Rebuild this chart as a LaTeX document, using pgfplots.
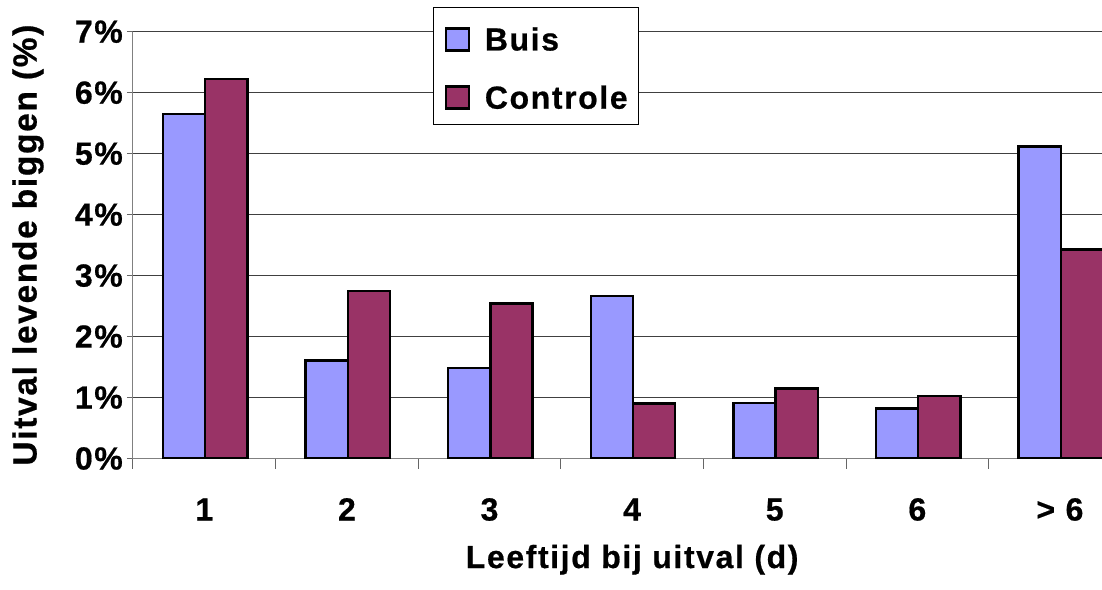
\documentclass[border=0pt]{standalone}
\usepackage{fontspec}
\setmainfont{Liberation Sans}[LetterSpace=5,BoldFeatures={FakeBold=0.6}]
\usepackage{pgfplots}
\pgfplotsset{compat=1.18}
\definecolor{buis}{HTML}{9999FF}
\definecolor{ctrl}{HTML}{993366}
\begin{document}
\begin{tikzpicture}[font=\fontsize{32}{38}\selectfont\bfseries]
\useasboundingbox (-133pt,-130.5pt) rectangle (969pt,458.5pt);
\begin{axis}[
  at={(0,0)}, anchor=south west,
  scale only axis, width=969pt, height=426.8pt,
  ybar, bar width=0.296,
  xmin=-0.5, xmax=6.295, ymin=0, ymax=7,
  axis lines*=left,
  axis line style={draw=black!50, line width=1pt},
  xtick={0,...,6}, xticklabels={1,2,3,4,5,6,{> 6}},
  x tick style={draw=none},
  extra x ticks={-0.5,0.5,1.5,2.5,3.5,4.5,5.5},
  extra x tick labels={},
  extra x tick style={major tick length=10pt, x tick style={draw=black!60, line width=1pt}},
  ytick={0,...,7}, yticklabels={0\%,1\%,2\%,3\%,4\%,5\%,6\%,7\%},
  tick align=outside, major tick length=6pt,
  y tick style={draw=black!60, line width=1pt},
  ymajorgrids, grid style={black!75, line width=1pt},
  tick label style={font=\fontsize{32}{38}\selectfont\bfseries},
  xticklabel style={anchor=base, inner sep=0pt, yshift=-56pt},
  yticklabel style={anchor=east, inner sep=0pt, xshift=-4pt},
  xlabel={Leeftijd bij uitval (d)},
  xlabel style={at={(axis description cs:0.5151,-0.2566)}, anchor=base, inner sep=0pt, font=\fontsize{32}{38}\selectfont\bfseries},
  ylabel={Uitval levende biggen (\%)},
  ylabel style={at={(axis description cs:-0.1084,0.5)}, anchor=center, font=\fontsize{33.5}{38}\selectfont\bfseries},
  legend image code/.code={\draw[#1] (0pt,0pt) rectangle (23pt,22pt);},
  legend style={at={(axis description cs:0.3096,1.0586)}, anchor=north west,
    draw=black, line width=1pt, fill=white, inner xsep=11pt, inner ysep=15pt,
    row sep=28.7pt, column sep=15pt,
    nodes={inner sep=0pt, text height=28.3pt, text depth=0pt, anchor=base west},
    font=\fontsize{32}{38}\selectfont\bfseries},
  legend cell align=left,
]
\addplot[fill=buis, draw=black, line width=2.4pt, bar shift=-0.142]
  coordinates {(0,5.65) (1,1.61) (2,1.48) (3,2.67) (4,0.91) (5,0.82) (6,5.12)};
\addplot[fill=ctrl, draw=black, line width=2.4pt, bar shift=0.154]
  coordinates {(0,6.22) (1,2.75) (2,2.54) (3,0.90) (4,1.15) (5,1.03) (6,3.43)};
\legend{Buis,Controle}
\end{axis}
\end{tikzpicture}
\end{document}
